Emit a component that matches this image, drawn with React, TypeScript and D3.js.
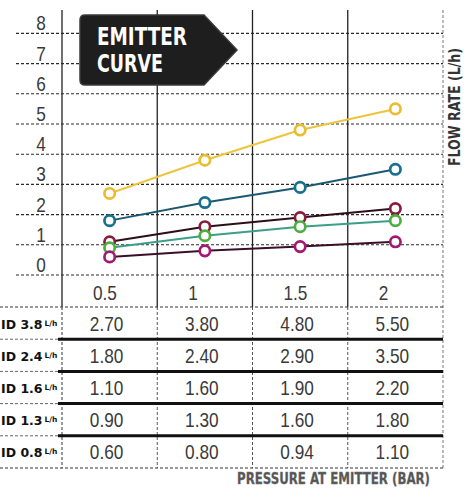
import React from "react";
import * as d3 from "d3";

const W = 464;
const H = 495;

const xValues = [0.5, 1, 1.5, 2];
const xTickLabels = ["0.5", "1", "1.5", "2"];
const yTicks = [0, 1, 2, 3, 4, 5, 6, 7, 8];

const seriesNames = ["ID 3.8", "ID 2.4", "ID 1.6", "ID 1.3", "ID 0.8"];
const id38 = [2.7, 3.8, 4.8, 5.5];
const id24 = [1.8, 2.4, 2.9, 3.5];
const id16 = [1.1, 1.6, 1.9, 2.2];
const id13 = [0.9, 1.3, 1.6, 1.8];
const id08 = [0.6, 0.8, 0.94, 1.1];
const seriesValues = [id38, id24, id16, id13, id08];

const lineColors = ["#eec43c", "#1b5872", "#2c0d18", "#3a9f86", "#3a0f27"];
const markerColors = ["#e9bd2e", "#17708e", "#8a1c3b", "#4cae3e", "#a21a70"];

const NUMFONT = "'Liberation Sans', Arial, sans-serif";
const BOLDC = "'DejaVu Sans Condensed', 'DejaVu Sans', sans-serif";

// narrow-width estimate (Liberation Sans metrics condensed to 82%)
function narrowWidth(s: string, fs: number) {
  let w = 0;
  for (const ch of s) w += ch === "." ? 0.278 : 0.556;
  return w * fs * 0.82;
}

function NumText(props: {
  x: number;
  y: number;
  text: string;
  anchor?: "start" | "middle" | "end";
  fs?: number;
}) {
  const fs = props.fs || 21;
  return (
    <text
      x={props.x}
      y={props.y}
      textAnchor={props.anchor || "start"}
      fontFamily={NUMFONT}
      fontSize={fs}
      fill="#3a3a3a"
      textLength={narrowWidth(props.text, fs)}
      lengthAdjust="spacingAndGlyphs"
    >
      {props.text}
    </text>
  );
}

export default function App() {
  const x = d3.scaleLinear().domain([0.25, 2.25]).range([62, 443]);
  const y = d3.scaleLinear().domain([0, 8]).range([275, 33.4]);
  const line = d3
    .line<number>()
    .x((_, i) => x(xValues[i]))
    .y((d) => y(d));

  const chartTop = 10;
  const headerBottom = 307;
  const rowH = 32.2;
  const tableBottom = headerBottom + rowH * seriesNames.length;
  const colBounds = [0.25, 0.75, 1.25, 1.75];
  const right = x(2.25);

  return (
    <svg
      width={W}
      height={H}
      style={{ position: "absolute", left: 0, top: 0, background: "#fff" }}
      xmlns="http://www.w3.org/2000/svg"
    >
      <rect x={0} y={0} width={W} height={H} fill="#fff" />

      {/* horizontal gridlines */}
      {yTicks.map((t) => (
        <line
          key={"g" + t}
          x1={16}
          x2={right}
          y1={y(t)}
          y2={y(t)}
          stroke="#2a2a2a"
          strokeWidth={1.1}
          strokeDasharray="3,2"
        />
      ))}

      {/* vertical column lines in chart + header */}
      {colBounds.map((c) => (
        <line
          key={"v" + c}
          x1={x(c)}
          x2={x(c)}
          y1={chartTop}
          y2={headerBottom}
          stroke="#222"
          strokeWidth={1.3}
        />
      ))}
      {/* dashed vertical lines in table */}
      {colBounds.map((c) => (
        <line
          key={"vt" + c}
          x1={x(c)}
          x2={x(c)}
          y1={headerBottom}
          y2={tableBottom}
          stroke="#555"
          strokeWidth={1}
          strokeDasharray="3,2"
        />
      ))}
      <line
        x1={right}
        x2={right}
        y1={chartTop}
        y2={tableBottom}
        stroke="#777"
        strokeWidth={1}
        strokeDasharray="3,2"
      />

      {/* y tick labels */}
      {yTicks.map((t) => (
        <NumText key={"yl" + t} x={41} y={y(t) - 3} text={String(t)} anchor="middle" />
      ))}

      {/* badge */}
      <path
        d={`M85,15 L204,15 L237,50 L204,85 L85,85 Q80,85 80,80 L80,20 Q80,15 85,15 Z`}
        fill="#1e1e1e"
        stroke="#3a3a3a"
        strokeWidth={1.5}
      />
      <text
        x={97}
        y={45}
        fontFamily={BOLDC}
        fontWeight="bold"
        fontSize={24}
        fill="#fff"
        textLength={90}
        lengthAdjust="spacingAndGlyphs"
      >
        EMITTER
      </text>
      <text
        x={97}
        y={72}
        fontFamily={BOLDC}
        fontWeight="bold"
        fontSize={24}
        fill="#fff"
        textLength={66}
        lengthAdjust="spacingAndGlyphs"
      >
        CURVE
      </text>

      {/* series lines */}
      {seriesValues.map((vals, s) => (
        <path
          key={"l" + s}
          d={line(vals) || ""}
          fill="none"
          stroke={lineColors[s]}
          strokeWidth={2}
        />
      ))}
      {/* markers */}
      {seriesValues.map((vals, s) =>
        vals.map((v, i) => (
          <circle
            key={"c" + s + "-" + i}
            cx={x(xValues[i])}
            cy={y(v)}
            r={5.2}
            fill="#fff"
            stroke={markerColors[s]}
            strokeWidth={2.7}
          />
        ))
      )}

      {/* right axis title */}
      <text
        transform={`translate(460,107) rotate(-90)`}
        textAnchor="middle"
        fontFamily={BOLDC}
        fontWeight="bold"
        fontSize={15}
        fill="#333"
        textLength={118}
        lengthAdjust="spacingAndGlyphs"
      >
        FLOW RATE (L/h)
      </text>

      {/* header x labels */}
      {xValues.map((v, i) => (
        <NumText key={"xl" + i} x={x(v - 0.25) + 31} y={300} text={xTickLabels[i]} />
      ))}

      {/* table horizontal lines */}
      <line
        x1={0}
        x2={right}
        y1={headerBottom}
        y2={headerBottom}
        stroke="#333"
        strokeWidth={1}
        strokeDasharray="3,2"
      />
      <line
        x1={x(0.25)}
        x2={x(0.25)}
        y1={headerBottom}
        y2={tableBottom}
        stroke="#888"
        strokeWidth={1}
        strokeDasharray="3,2"
      />
      {seriesNames.slice(1).map((_, r) => {
        const yy = headerBottom + rowH * (r + 1);
        return (
          <g key={"hr" + r}>
            <line
              x1={0}
              x2={x(0.25)}
              y1={yy}
              y2={yy}
              stroke="#666"
              strokeWidth={1}
              strokeDasharray="3,2"
            />
            <line
              x1={x(0.25) - 4}
              x2={right}
              y1={yy}
              y2={yy}
              stroke="#111"
              strokeWidth={3}
            />
          </g>
        );
      })}
      <line
        x1={0}
        x2={right}
        y1={tableBottom}
        y2={tableBottom}
        stroke="#333"
        strokeWidth={1}
        strokeDasharray="3,2"
      />

      {/* table rows */}
      {seriesNames.map((name, r) => {
        const cy = headerBottom + rowH * r + rowH / 2;
        return (
          <g key={"row" + r}>
            <text
              x={1}
              y={cy + 5.5}
              fontFamily="'DejaVu Sans', sans-serif"
              fontWeight="bold"
              fontSize={12.5}
              fill="#111"
            >
              {name}
              <tspan fontSize={7.5} dx={2} dy={-3}>
                L/h
              </tspan>
            </text>
            {seriesValues[r].map((v, i) => (
              <NumText
                key={"tv" + r + "-" + i}
                x={x(xValues[i]) - 3}
                y={cy + 7.5}
                text={v.toFixed(2)}
                anchor="middle"
              />
            ))}
          </g>
        );
      })}

      {/* bottom title */}
      <text
        x={237}
        y={484}
        fontFamily={BOLDC}
        fontWeight="bold"
        fontSize={15}
        fill="#555"
        stroke="#777"
        strokeWidth={0.3}
        textLength={193}
        lengthAdjust="spacingAndGlyphs"
      >
        PRESSURE AT EMITTER (BAR)
      </text>
    </svg>
  );
}
